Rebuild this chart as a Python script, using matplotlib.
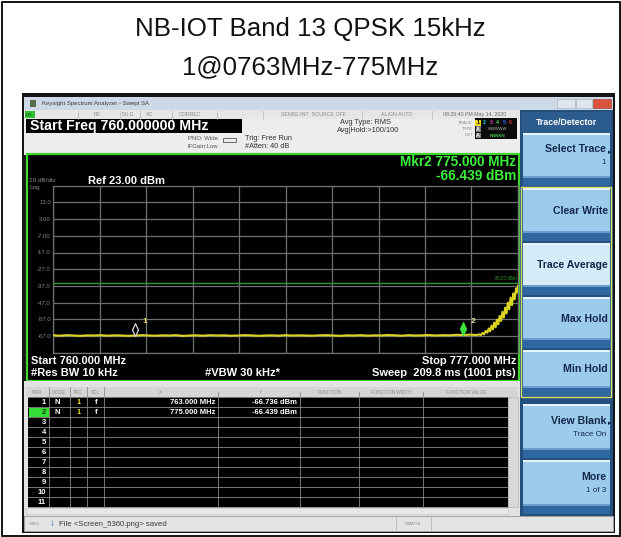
import matplotlib
matplotlib.use('Agg')
import matplotlib.pyplot as plt
from matplotlib.patches import Rectangle, Polygon
from matplotlib.path import Path

# ---------------- data ----------------
title_lines = ["NB-IOT Band 13 QPSK 15kHz", "1@0763MHz-775MHz"]

start_mhz, stop_mhz = 760.0, 777.0
ref_dbm, db_per_div, n_div = 23.0, 10.0, 10
display_line_dbm = -35.0

floor_freq = [760.00, 760.25, 760.50, 760.75, 761.00, 761.25, 761.50, 761.75, 762.00, 762.25,
              762.50, 762.75, 763.00, 763.25, 763.50, 763.75, 764.00, 764.25, 764.50, 764.75,
              765.00, 765.25, 765.50, 765.75, 766.00, 766.25, 766.50, 766.75, 767.00, 767.25,
              767.50, 767.75, 768.00, 768.25, 768.50, 768.75, 769.00, 769.25, 769.50, 769.75,
              770.00, 770.25, 770.50, 770.75, 771.00, 771.25, 771.50, 771.75, 772.00, 772.25,
              772.50, 772.75, 773.00, 773.25, 773.50, 773.75, 774.00, 774.25, 774.50, 774.75,
              775.00, 775.25, 775.50]
floor_dbm = [-66.6, -66.8, -66.5, -66.7, -66.9, -66.6, -66.7, -66.5, -66.8, -66.6,
             -66.7, -66.9, -66.7, -66.5, -66.7, -66.8, -66.6, -66.7, -66.5, -66.9,
             -66.7, -66.6, -66.8, -66.5, -66.7, -66.6, -66.8, -66.7, -66.5, -66.6,
             -66.9, -66.7, -66.6, -66.8, -66.5, -66.7, -66.6, -66.7, -66.8, -66.6,
             -66.5, -66.7, -66.9, -66.6, -66.7, -66.5, -66.8, -66.6, -66.7, -66.4,
             -66.6, -66.8, -66.5, -66.7, -66.6, -66.4, -66.7, -66.5, -66.6, -66.3,
             -66.4, -66.2, -66.4]
edge_freq = [775.58, 775.64, 775.70, 775.76, 775.82, 775.88, 775.93, 775.98, 776.03, 776.08,
             776.13, 776.18, 776.23, 776.28, 776.33, 776.38, 776.43, 776.48, 776.53, 776.58,
             776.63, 776.68, 776.73, 776.78, 776.83, 776.88, 776.93, 776.97, 777.00]
edge_dbm = [-66.0, -66.5, -65.2, -66.0, -64.0, -65.0, -62.5, -64.2, -60.8, -63.0,
            -59.0, -61.8, -57.2, -60.0, -55.0, -58.0, -52.5, -56.0, -50.0, -53.5,
            -47.0, -51.0, -44.0, -48.5, -41.5, -45.0, -38.5, -41.0, -37.0]

marker_ids = [1, 2]
marker_freq = [763.000, 775.000]
marker_dbm = [-66.736, -66.439]
marker_mode = ["N", "N"]
marker_trc = ["1", "1"]
marker_scl = ["f", "f"]

softkeys = [("Select Trace", "1"), ("Clear Write", ""), ("Trace Average", ""),
            ("Max Hold", ""), ("Min Hold", ""), ("View Blank", "Trace On"), ("More", "1 of 3")]

# ---------------- helpers ----------------
W, H = 621, 537
fig = plt.figure(figsize=(W / 100, H / 100), dpi=100)
fig.patch.set_facecolor('white')
FAM = ['Liberation Sans', 'DejaVu Sans']


def R(x0, y0, x1, y1, fc, ec='none', lw=0.0, z=1):
    fig.add_artist(Rectangle((x0 / W, 1 - y1 / H), (x1 - x0) / W, (y1 - y0) / H,
                             facecolor=fc, edgecolor=ec, linewidth=lw,
                             transform=fig.transFigure, zorder=z))


def L(x0, y0, x1, y1, color, lw=0.8, z=2):
    fig.add_artist(plt.Line2D([x0 / W, x1 / W], [1 - y0 / H, 1 - y1 / H], color=color,
                              linewidth=lw, transform=fig.transFigure, zorder=z))


def T(x, y, s, size=6, color='k', ha='left', va='center', weight='normal', z=6):
    fig.text(x / W, 1 - y / H, s, fontsize=size, color=color, ha=ha, va=va,
             fontweight=weight, family=FAM, zorder=z)


# ---------------- title ----------------
fig.add_artist(Rectangle((1.5 / W, 1.5 / H), (W - 3) / W, (H - 3) / H, fill=False,
                         edgecolor='black', linewidth=1.3, transform=fig.transFigure, zorder=20))
T(W / 2, 29, title_lines[0], size=18.6, color='#111111', ha='center')
T(W / 2, 67, title_lines[1], size=18.6, color='#111111', ha='center')

# ---------------- screenshot frame ----------------
R(22, 93, 615, 533, '#151515')
# window title bar
R(24, 97, 613, 110, '#cdd9e6')
R(30, 100, 36, 107, '#5a6f48')
T(42, 103.5, "Keysight Spectrum Analyzer - Swept SA", size=4.3, color='#3a3a3a')
R(557, 99, 575, 108, '#dfe6ee', ec='#9aa7b5', lw=0.4)
R(576, 99, 592, 108, '#dfe6ee', ec='#9aa7b5', lw=0.4)
R(593, 99, 611, 108, '#d8523c', ec='#9a3a2a', lw=0.4)
# status row
R(24, 110, 613, 119, '#e6e6e6')
R(25, 111, 35, 118, '#2fbf2f')
T(26, 114.5, "LXI", size=3, color='#103010')
for sx in [78, 120, 140, 172, 217, 263, 362, 432]:
    L(sx, 111, sx, 118.5, '#b8b8b8', lw=0.5)
T(97, 114.5, "RF", size=3.8, color='#8a8a8a', ha='center')
T(128, 114.5, "50 Ω", size=3.8, color='#8a8a8a', ha='center')
T(150, 114.5, "AC", size=3.8, color='#8a8a8a', ha='center')
T(190, 114.5, "CORREC", size=3.8, color='#8a8a8a', ha='center')
T(313, 114.5, "SENSE:INT  SOURCE OFF", size=3.8, color='#8a8a8a', ha='center')
T(397, 114.5, "ALIGN AUTO", size=3.8, color='#8a8a8a', ha='center')
T(475, 114.5, "08:26:40 PM May 14, 2020", size=3.8, color='#6a6a6a', ha='center')

# settings area
R(24, 119, 520, 155, '#ededed')
R(26, 119.5, 242, 132.5, '#000000')
T(30, 126.5, "Start Freq 760.000000 MHz", size=10.2, color='white', weight='bold')
T(218, 139, "PNO: Wide", size=4.3, color='#555555', ha='right')
T(218, 147, "IFGain:Low", size=4.3, color='#555555', ha='right')
fig.add_artist(Polygon([(223 / W, 1 - 138 / H), (236 / W, 1 - 138 / H), (236 / W, 1 - 142 / H),
                        (223 / W, 1 - 142 / H)], closed=True, fill=False, edgecolor='#666666',
                       linewidth=0.7, transform=fig.transFigure, zorder=3))
T(245, 138.5, "Trig: Free Run", size=5.3, color='#333333')
T(245, 147, "#Atten: 40 dB", size=5.3, color='#333333')
T(340, 122.5, "Avg Type: RMS", size=5.3, color='#333333')
T(337, 130, "Avg|Hold:>100/100", size=5.3, color='#333333')
T(473, 122.5, "TRACE", size=3.2, color='#8a8a8a', ha='right')
T(473, 129, "TYPE", size=3.2, color='#8a8a8a', ha='right')
T(473, 135.5, "DET", size=3.2, color='#8a8a8a', ha='right')
R(475, 118, 517, 139, '#0c0c0c')
trace_cols = ['#f0e020', '#30d0e0', '#e040c0', '#40d040', '#4060ff', '#e03030']
for i, c in enumerate(trace_cols):
    xx = 478 + i * 6.5
    if i == 0:
        R(xx - 2.6, 119.5, xx + 2.6, 125.5, '#e8d820', z=2)
        T(xx, 122.5, "1", size=3.8, color='black', ha='center', weight='bold')
    else:
        T(xx, 122.5, str(i + 1), size=3.8, color=c, ha='center', weight='bold')
R(475.6, 126.5, 480.6, 132, '#7a7a7a', z=2)
T(478, 129.3, "A", size=3.8, color='white', ha='center', weight='bold')
T(498, 129.3, "WWWWW", size=3.0, color='#b0b0b0', ha='center')
R(475.6, 133, 480.6, 138.5, '#7a7a7a', z=2)
T(478, 135.8, "A", size=3.8, color='white', ha='center', weight='bold')
T(498, 135.8, "NNNNN", size=3.2, color='#40c040', ha='center', weight='bold')

# ---------------- graph ----------------
R(27, 154, 519, 381, '#000000', ec='#3fd42e', lw=1.6, z=1)
ax = fig.add_axes([53 / W, 1 - 352.7 / H, (518 - 53) / W, (352.7 - 185.7) / H])
ax.set_zorder(3)
ax.set_facecolor('black')
ax.set_xlim(start_mhz, stop_mhz)
bottom = ref_dbm - n_div * db_per_div
ax.set_ylim(bottom, ref_dbm)
xt = [start_mhz + k * (stop_mhz - start_mhz) / n_div for k in range(n_div + 1)]
yt = [bottom + k * db_per_div for k in range(n_div + 1)]
ax.set_xticks(xt)
ax.set_yticks(yt)
ylabs = []
for v in yt:
    if v in (bottom, ref_dbm):
        ylabs.append("")
    elif abs(v) < 10:
        ylabs.append(f"{v:.2f}")
    else:
        ylabs.append(f"{v:.1f}")
ax.set_yticklabels(ylabs, fontsize=4.3, color='#8c8c8c', family=FAM)
ax.tick_params(axis='y', length=0, pad=1.5)
ax.tick_params(axis='x', length=0, labelbottom=False)
ax.grid(True, color='#707070', linewidth=0.9)
for s in ax.spines.values():
    s.set_color('#707070')
    s.set_linewidth(0.9)
ax.axhline(display_line_dbm, color='#2e9e2e', linewidth=1.0, zorder=3)
ax.text(stop_mhz - 0.04, display_line_dbm + 1.2, f"{display_line_dbm:.2f} dBm", fontsize=3.3,
        color='#2ea02e', ha='right', va='bottom', family=FAM)
ax.plot(floor_freq + edge_freq, floor_dbm + edge_dbm, color='#dcd424', linewidth=1.5, zorder=4)

dia = Path([(0, 0), (3, 6.5), (0, 13), (-3, 6.5), (0, 0)],
           [Path.MOVETO, Path.LINETO, Path.LINETO, Path.LINETO, Path.CLOSEPOLY])
ax.plot([marker_freq[0]], [marker_dbm[0]], marker=dia, markersize=18.5, markerfacecolor='black',
        markeredgecolor='#d8d8d8', markeredgewidth=0.9, linestyle='none', zorder=6)
ax.plot([marker_freq[1]], [marker_dbm[1]], marker=dia, markersize=18.5, markerfacecolor='#3ee03e',
        markeredgecolor='#3ee03e', markeredgewidth=0.9, linestyle='none', zorder=6)
for i, col in zip(range(2), ['#e8e040', '#e8e4a0']):
    ax.annotate(str(marker_ids[i]), (marker_freq[i], marker_dbm[i]), xytext=(5, 9),
                textcoords='offset points', fontsize=6, color=col, fontweight='bold', family=FAM,
                zorder=7)

T(29, 181, "10 dB/div", size=4.6, color='#8c8c8c')
T(29, 187.5, "Log", size=4.6, color='#8c8c8c')
T(88, 180.5, f"Ref {ref_dbm:.2f} dBm", size=8, color='white', weight='bold')
T(516, 162, f"Mkr{marker_ids[1]} {marker_freq[1]:.3f} MHz", size=9.8, color='#3cf03c',
  weight='bold', ha='right')
T(516, 176.5, f"{marker_dbm[1]:.3f} dBm", size=9.8, color='#3cf03c', weight='bold', ha='right')
T(31, 361, f"Start {start_mhz:.3f} MHz", size=8, color='white', weight='bold')
T(31, 373.5, "#Res BW 10 kHz", size=8, color='white', weight='bold')
T(205, 373.5, "#VBW 30 kHz*", size=8, color='white', weight='bold')
T(516, 361, f"Stop {stop_mhz:.3f} MHz", size=8, color='white', weight='bold', ha='right')
T(516, 373.5, "Sweep  209.8 ms (1001 pts)", size=8, color='white', weight='bold', ha='right')

# ---------------- marker table ----------------
R(24, 381, 520, 516, '#e2e2e2')
R(26, 387, 518, 397, '#d6d6d6')
hdr = [(37, "MKR"), (59, "MODE"), (78, "TRC"), (95, "SCL"), (160, "X"), (260, "Y"),
       (330, "FUNCTION"), (391, "FUNCTION WIDTH"), (466, "FUNCTION VALUE")]
for hx, hs in hdr:
    T(hx, 392, hs, size=3.3, color='#8a8a8a', ha='center')
R(28, 397, 508, 507, '#000000')
R(508, 397, 518, 507, '#d8d8d8', ec='#b0b0b0', lw=0.4)
for k in range(12):
    yy = 397 + k * 10
    L(28, yy, 508, yy, '#8a8a8a', lw=0.6, z=3)
for cx in [49, 70, 87, 104, 218, 300, 359, 423]:
    L(cx, 392 if cx > 104 else 387, cx, 507, '#8a8a8a', lw=0.6, z=3)
for k in range(11):
    yy = 397 + k * 10 + 5
    if k == 1:
        R(29, 407.6, 48.5, 416.6, '#33dd33', z=4)
    T(46, yy + 0.3, str(k + 1), size=5.5, color='white' if k != 1 else '#0a3a0a',
      weight='bold', ha='right')
for i in range(len(marker_ids)):
    yy = 397 + i * 10 + 5.3
    T(57, yy, marker_mode[i], size=5.5, color='white', weight='bold', ha='center')
    T(79, yy, marker_trc[i], size=5.5, color='#e8e030', weight='bold', ha='center')
    T(96, yy, marker_scl[i], size=5.5, color='white', weight='bold', ha='center')
    T(215, yy, f"{marker_freq[i]:.3f} MHz", size=5.5, color='white', weight='bold', ha='right')
    T(297, yy, f"{marker_dbm[i]:.3f} dBm", size=5.5, color='white', weight='bold', ha='right')
R(26, 507.5, 508, 514, '#e8e8e8', ec='#c0c0c0', lw=0.4)
# message bar
R(24, 516, 613, 531, '#e4e4e4', ec='#b0b0b0', lw=0.5)
T(30, 524, "MSG", size=3.2, color='#8a8a8a')
T(52, 523.5, "↓", size=7, color='#2a6fd0', weight='bold', ha='center')
T(59, 524, "File <Screen_5360.png> saved", size=5.6, color='#3a3a3a')
L(396, 517, 396, 530, '#b0b0b0', lw=0.5)
L(431, 517, 431, 530, '#b0b0b0', lw=0.5)
T(413, 524, "STATUS", size=3.2, color='#8a8a8a', ha='center')

# ---------------- softkeys ----------------
R(520, 110, 613, 516, '#24507e')
R(522, 112, 611, 133, '#2c5c8e')
T(566, 122.5, "Trace/Detector", size=6.3, color='white', weight='bold', ha='center')
key_y = [(133, 186), (188, 241), (243, 295), (297, 348), (350, 396), (404, 458), (460, 514)]
for (y0, y1), (lab, sub) in zip(key_y, softkeys):
    light = '#d6ebfa' if lab == "Trace Average" else '#9ccbec'
    R(523, y0, 610, y1, light, z=2)
    R(523, y0, 610, y0 + 2, '#e8f4fc', z=2)
    R(523, y1 - 8, 610, y1, '#2f67a0', z=2)
    R(523, y1 - 10, 610, y1 - 8, '#6a9ccc', z=2)
    mid = (y0 + y1 - 8) / 2
    if sub:
        T(606, mid - 6, lab, size=7.6, color='#142848', weight='bold', ha='right')
        T(606, mid + 7, sub, size=5.8, color='#142848', ha='right')
        if lab in ("Select Trace", "View Blank"):
            T(611, mid - 3, "▸", size=5, color='#142848', ha='right')
    else:
        T(608, mid, lab, size=7.6, color='#142848', weight='bold', ha='right')
R(521, 186.5, 611, 396.5, 'none', ec='#d8e070', lw=1.0, z=3)

fig.savefig('out.png', dpi=100, facecolor='white')
